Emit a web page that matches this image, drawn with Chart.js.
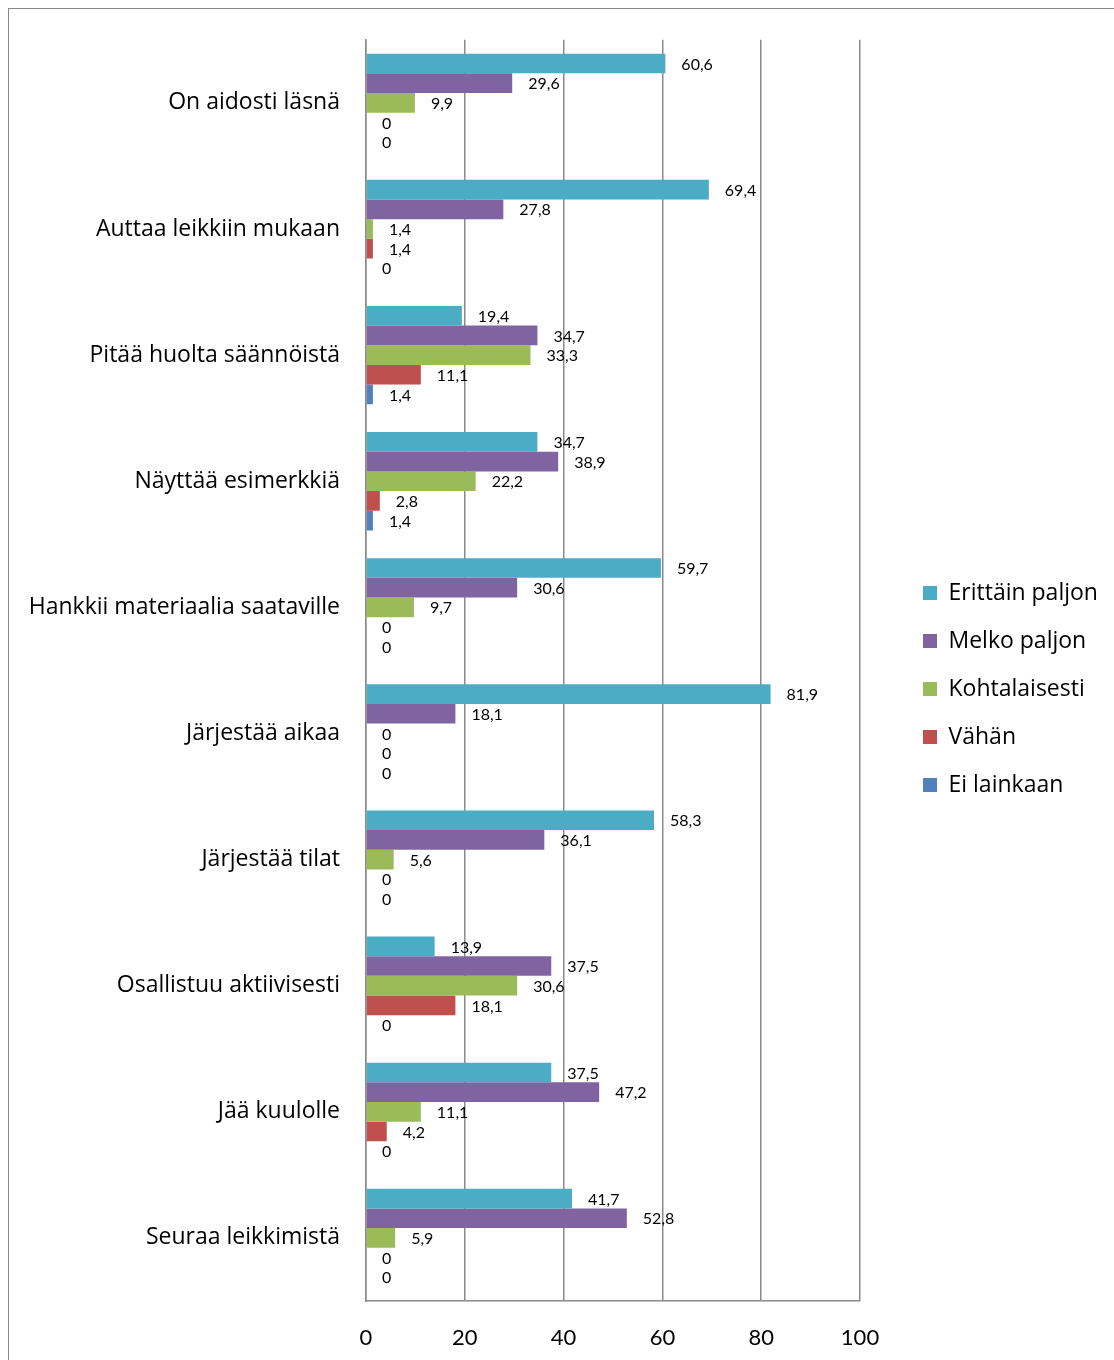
<!DOCTYPE html>
<html>
<head>
<meta charset="utf-8">
<script src="https://cdn.jsdelivr.net/npm/chart.js@4"></script>
<style>
  body { margin: 0; background: #fff; }
  #wrap { position: relative; width: 1114px; height: 1360px; overflow: hidden; }
  #frame { position: absolute; left: 8px; top: 8px; width: 1200px; height: 1400px; border: 1.5px solid #888; }
  #chart { position: absolute; left: 0; top: 0; }
</style>
</head>
<body>
<div id="wrap">
  <div id="frame"></div>
  <canvas id="chart" width="1114" height="1360"></canvas>
</div>
<script>
const categories = [
  'On aidosti läsnä',
  'Auttaa leikkiin mukaan',
  'Pitää huolta säännöistä',
  'Näyttää esimerkkiä',
  'Hankkii materiaalia saataville',
  'Järjestää aikaa',
  'Järjestää tilat',
  'Osallistuu aktiivisesti',
  'Jää kuulolle',
  'Seuraa leikkimistä'
];

const seriesNames = ['Erittäin paljon', 'Melko paljon', 'Kohtalaisesti', 'Vähän', 'Ei lainkaan'];
const seriesColors = ['#4BACC6', '#8064A2', '#9BBB59', '#C0504D', '#4F81BD'];

const erittainPaljon = [60.6, 69.4, 19.4, 34.7, 59.7, 81.9, 58.3, 13.9, 37.5, 41.7];
const melkoPaljon    = [29.6, 27.8, 34.7, 38.9, 30.6, 18.1, 36.1, 37.5, 47.2, 52.8];
const kohtalaisesti  = [9.9, 1.4, 33.3, 22.2, 9.7, 0, 5.6, 30.6, 11.1, 5.9];
const vahan          = [0, 1.4, 11.1, 2.8, 0, 0, 0, 18.1, 4.2, 0];
const eiLainkaan     = [0, 0, 1.4, 1.4, 0, 0, 0, 0, 0, 0];

const xTicks = [0, 20, 40, 60, 80, 100];

const seriesValues = [erittainPaljon, melkoPaljon, kohtalaisesti, vahan, eiLainkaan];

const textFont = '"Open Sans", Lato, sans-serif';
Chart.defaults.font.family = 'Lato, "Open Sans", sans-serif';
Chart.defaults.color = '#000';

// arvot palkkien perään pilkulla
const valueLabels = {
  id: 'valueLabels',
  afterDatasetsDraw(chart) {
    const ctx = chart.ctx;
    ctx.save();
    ctx.font = '16px Lato, "Open Sans", sans-serif';
    ctx.fillStyle = '#000';
    ctx.textBaseline = 'middle';
    ctx.textAlign = 'left';
    chart.data.datasets.forEach((ds, i) => {
      chart.getDatasetMeta(i).data.forEach((bar, j) => {
        const txt = String(ds.data[j]).replace('.', ',');
        ctx.fillText(txt, bar.x + 16, bar.y + 1);
      });
    });
    ctx.restore();
  }
};

// selite oikealle kuvaajan viereen
const moveLegend = {
  id: 'moveLegend',
  afterLayout(chart) {
    const lg = chart.legend;
    lg.left = chart.chartArea.right + 38;
    lg.right = chart.width;
    lg.width = lg.right - lg.left;
    lg.top -= 10;
    lg.bottom -= 10;
  }
};

const ctx = document.getElementById('chart').getContext('2d');
new Chart(ctx, {
  type: 'bar',
  data: {
    labels: categories,
    datasets: seriesNames.map((name, i) => ({
      label: name,
      data: seriesValues[i],
      backgroundColor: seriesColors[i],
      borderWidth: 0,
      barPercentage: 1.0,
      categoryPercentage: 0.78
    }))
  },
  options: {
    indexAxis: 'y',
    responsive: false,
    animation: false,
    layout: { padding: { top: 38, right: 104, bottom: 0, left: 0 } },
    plugins: {
      legend: {
        position: 'right',
        maxWidth: 150,
        labels: {
          font: { size: 23, family: textFont },
          boxWidth: 14,
          boxHeight: 14,
          padding: 25,
          color: '#000'
        }
      },
      tooltip: { enabled: false }
    },
    scales: {
      x: {
        min: 0,
        max: 100,
        afterBuildTicks(scale) {
          scale.ticks = xTicks.map(v => ({ value: v }));
        },
        afterFit(scale) { scale.height = 59; },
        grid: { color: '#8a8a8a', lineWidth: 1.5, drawTicks: false },
        border: { display: true, color: '#8a8a8a', width: 1.5 },
        ticks: { font: { size: 22 }, padding: 24, color: '#000' }
      },
      y: {
        afterFit(scale) { scale.width = 366; },
        grid: { display: false, drawTicks: false },
        border: { display: true, color: '#8a8a8a', width: 1.5 },
        ticks: { font: { size: 23, family: textFont }, padding: 26, color: '#000' }
      }
    }
  },
  plugins: [valueLabels, moveLegend]
});
</script>
</body>
</html>
